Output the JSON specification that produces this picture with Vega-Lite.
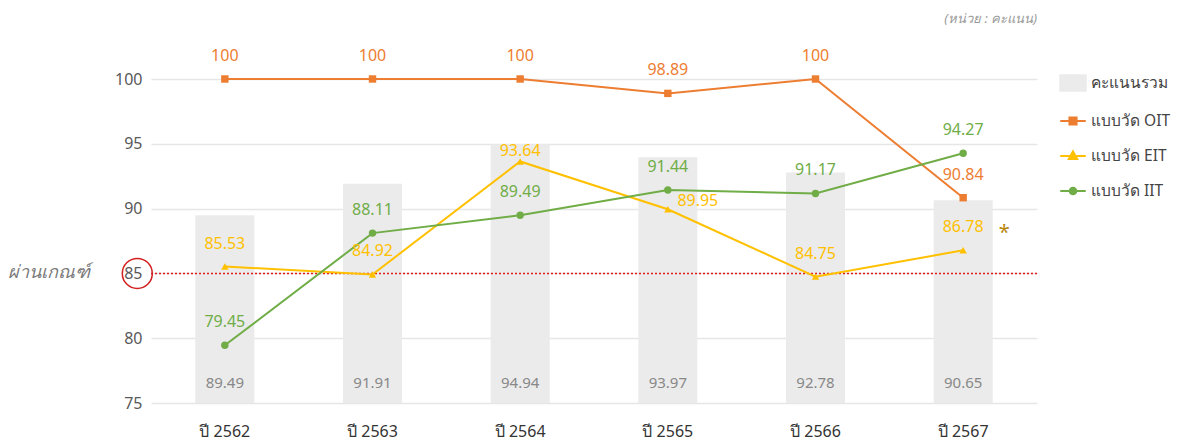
{
  "$schema": "https://vega.github.io/schema/vega-lite/v6.json",
  "width": 886,
  "height": 324,
  "autosize": {"type": "none"},
  "padding": {"left": 151, "top": 79, "right": 147, "bottom": 41},
  "title": {"text": "(หน่วย : คะแนน)", "anchor": "end", "frame": "group", "orient": "top", "offset": 22, "fontSize": 13, "fontStyle": "italic", "fontWeight": "normal", "color": "#999999", "dx": 0},
  "config": {"font": "Noto Sans", "view": {"stroke": null}, "legend": {"title": null}},
  "datasets": {
    "totals": [
      {"year": "ปี 2562", "total": 89.49},
      {"year": "ปี 2563", "total": 91.91},
      {"year": "ปี 2564", "total": 94.94},
      {"year": "ปี 2565", "total": 93.97},
      {"year": "ปี 2566", "total": 92.78},
      {"year": "ปี 2567", "total": 90.65}
    ],
    "scores": [
      {"year": "ปี 2562", "series": "แบบวัด OIT", "value": 100},
      {"year": "ปี 2563", "series": "แบบวัด OIT", "value": 100},
      {"year": "ปี 2564", "series": "แบบวัด OIT", "value": 100},
      {"year": "ปี 2565", "series": "แบบวัด OIT", "value": 98.89},
      {"year": "ปี 2566", "series": "แบบวัด OIT", "value": 100},
      {"year": "ปี 2567", "series": "แบบวัด OIT", "value": 90.84},
      {"year": "ปี 2562", "series": "แบบวัด EIT", "value": 85.53},
      {"year": "ปี 2563", "series": "แบบวัด EIT", "value": 84.92},
      {"year": "ปี 2564", "series": "แบบวัด EIT", "value": 93.64},
      {"year": "ปี 2565", "series": "แบบวัด EIT", "value": 89.95},
      {"year": "ปี 2566", "series": "แบบวัด EIT", "value": 84.75},
      {"year": "ปี 2567", "series": "แบบวัด EIT", "value": 86.78},
      {"year": "ปี 2562", "series": "แบบวัด IIT", "value": 79.45},
      {"year": "ปี 2563", "series": "แบบวัด IIT", "value": 88.11},
      {"year": "ปี 2564", "series": "แบบวัด IIT", "value": 89.49},
      {"year": "ปี 2565", "series": "แบบวัด IIT", "value": 91.44},
      {"year": "ปี 2566", "series": "แบบวัด IIT", "value": 91.17},
      {"year": "ปี 2567", "series": "แบบวัด IIT", "value": 94.27}
    ],
    "one": [{}]
  },
  "layer": [
    {
      "data": {"name": "totals"},
      "mark": {"type": "bar"},
      "encoding": {
        "x": {
          "field": "year", "type": "nominal", "sort": null,
          "scale": {"type": "band", "paddingInner": 0.6, "paddingOuter": 0.3},
          "axis": {"title": null, "labelAngle": 0, "labelFontSize": 16, "labelColor": "#333333", "labelPadding": 20, "ticks": false, "domain": false, "grid": false}
        },
        "y": {
          "field": "total", "type": "quantitative",
          "scale": {"domain": [75, 100], "nice": false, "zero": false},
          "axis": {"title": null, "values": [75, 80, 85, 90, 95, 100], "labelFontSize": 16, "labelColor": "#595959", "labelPadding": 9, "ticks": false, "domain": false, "gridColor": "#e6e6e6", "gridWidth": 1.5}
        },
        "y2": {"datum": 75},
        "color": {
          "datum": "คะแนนรวม",
          "scale": {"domain": ["คะแนนรวม", "แบบวัด OIT", "แบบวัด EIT", "แบบวัด IIT"], "range": ["#ebebeb", "#ed7d31", "#ffc000", "#70ad47"]},
          "legend": {
            "title": null, "orient": "none", "legendX": 908, "legendY": -10, "labelFontSize": 15.5, "labelColor": "#444444", "symbolSize": 650, "rowPadding": 12, "labelOffset": 4,
            "encode": {
              "symbols": {
                "update": {
                  "shape": {"signal": "datum.value === 'คะแนนรวม' ? 'M-1,-0.6H1V0.6H-1Z' : datum.value === 'แบบวัด OIT' ? 'M-1,0H1M-0.28,-0.28H0.28V0.28H-0.28Z' : datum.value === 'แบบวัด EIT' ? 'M-1,0H1M0,-0.36L0.33,0.24H-0.33Z' : 'M-1,0H1M0.26,0A0.26,0.26 0 1,1 -0.26,0A0.26,0.26 0 1,1 0.26,0Z'"},
                  "fill": {"signal": "scale('color', datum.value)"},
                  "stroke": {"signal": "scale('color', datum.value)"},
                  "strokeWidth": {"value": 2},
                  "opacity": {"value": 1},
                  "fillOpacity": {"value": 1}
                }
              }
            }
          }
        }
      }
    },
    {
      "data": {"name": "totals"},
      "mark": {"type": "text", "dy": -20, "fontSize": 15, "color": "#888888"},
      "encoding": {
        "x": {"field": "year", "type": "nominal", "sort": null},
        "y": {"datum": 75},
        "text": {"field": "total", "type": "quantitative", "format": ".2f"}
      }
    },
    {
      "data": {"name": "one"},
      "mark": {"type": "rule", "color": "#e01c1c", "strokeDash": [2, 2], "strokeWidth": 1.5},
      "encoding": {"y": {"datum": 85}}
    },
    {
      "data": {"name": "scores"},
      "mark": {"type": "line", "strokeWidth": 2},
      "encoding": {
        "x": {"field": "year", "type": "nominal", "sort": null},
        "y": {"field": "value", "type": "quantitative"},
        "color": {"field": "series", "type": "nominal"}
      }
    },
    {
      "data": {"name": "scores"},
      "mark": {"type": "point", "filled": true, "opacity": 1},
      "encoding": {
        "x": {"field": "year", "type": "nominal", "sort": null},
        "y": {"field": "value", "type": "quantitative"},
        "color": {"field": "series", "type": "nominal"},
        "shape": {"field": "series", "type": "nominal", "scale": {"domain": ["แบบวัด OIT", "แบบวัด EIT", "แบบวัด IIT"], "range": ["square", "triangle-up", "circle"]}, "legend": null},
        "size": {"value": 55}
      }
    },
    {
      "data": {"name": "scores"},
      "transform": [{"filter": "!(datum.year === 'ปี 2564' && datum.series === 'แบบวัด EIT') && !(datum.year === 'ปี 2565' && datum.series === 'แบบวัด EIT')"}],
      "mark": {"type": "text", "dy": -23, "fontSize": 16},
      "encoding": {
        "x": {"field": "year", "type": "nominal", "sort": null},
        "y": {"field": "value", "type": "quantitative"},
        "color": {"field": "series", "type": "nominal"},
        "text": {"field": "value", "type": "quantitative"}
      }
    },
    {
      "data": {"name": "scores"},
      "transform": [{"filter": "datum.year === 'ปี 2564' && datum.series === 'แบบวัด EIT'"}],
      "mark": {"type": "text", "dy": -10, "fontSize": 16},
      "encoding": {
        "x": {"field": "year", "type": "nominal", "sort": null},
        "y": {"field": "value", "type": "quantitative"},
        "color": {"field": "series", "type": "nominal"},
        "text": {"field": "value", "type": "quantitative"}
      }
    },
    {
      "data": {"name": "scores"},
      "transform": [{"filter": "datum.year === 'ปี 2565' && datum.series === 'แบบวัด EIT'"}],
      "mark": {"type": "text", "dx": 30, "dy": -8, "fontSize": 16},
      "encoding": {
        "x": {"field": "year", "type": "nominal", "sort": null},
        "y": {"field": "value", "type": "quantitative"},
        "color": {"field": "series", "type": "nominal"},
        "text": {"field": "value", "type": "quantitative"}
      }
    },
    {
      "data": {"name": "one"},
      "mark": {"type": "text", "text": "*", "dx": 41, "dy": -17, "fontSize": 20, "color": "#b8860b"},
      "encoding": {"x": {"datum": "ปี 2567"}, "y": {"datum": 86.78}}
    },
    {
      "data": {"name": "one"},
      "mark": {"type": "text", "text": "ผ่านเกณฑ์", "align": "right", "dx": -135, "fontSize": 18, "fontStyle": "italic", "color": "#7a7a7a"},
      "encoding": {"x": {"datum": "ปี 2562"}, "y": {"datum": 85}}
    },
    {
      "data": {"name": "one"},
      "mark": {"type": "point", "filled": false, "size": 900, "color": "#d42020", "strokeWidth": 1.5, "opacity": 1},
      "encoding": {"x": {"datum": "ปี 2562"}, "xOffset": {"value": -58}, "y": {"datum": 85}}
    }
  ]
}
